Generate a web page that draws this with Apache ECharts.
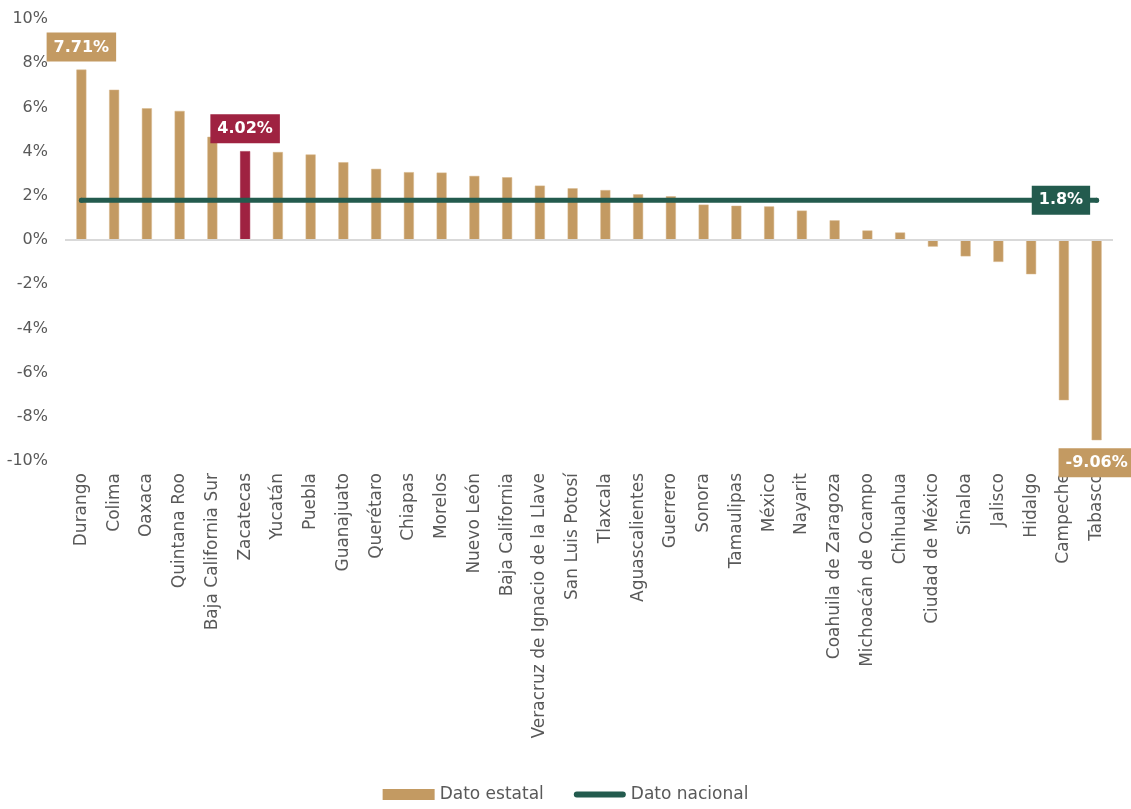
<!DOCTYPE html>
<html><head><meta charset="utf-8">
<script src="https://cdn.jsdelivr.net/npm/echarts@6/dist/echarts.min.js"></script>
<style>html,body{margin:0;padding:0;background:#fff}#c{width:1131px;height:809px}</style>
</head><body><div id="c"></div>
<script>
const categories = ["Durango","Colima","Oaxaca","Quintana Roo","Baja California Sur","Zacatecas","Yucatán","Puebla","Guanajuato","Querétaro","Chiapas","Morelos","Nuevo León","Baja California","Veracruz de Ignacio de la Llave","San Luis Potosí","Tlaxcala","Aguascalientes","Guerrero","Sonora","Tamaulipas","México","Nayarit","Coahuila de Zaragoza","Michoacán de Ocampo","Chihuahua","Ciudad de México","Sinaloa","Jalisco","Hidalgo","Campeche","Tabasco"];
const estatal = [7.71,6.80,5.96,5.84,4.67,4.02,3.98,3.87,3.52,3.22,3.07,3.05,2.90,2.84,2.46,2.34,2.26,2.07,1.98,1.60,1.55,1.52,1.33,0.89,0.43,0.34,-0.30,-0.74,-0.99,-1.55,-7.25,-9.06];
const nacionalValue = 1.8;
const nacional = categories.map(() => nacionalValue);
const highlighted = "Zacatecas";
const yTicks = [-10,-8,-6,-4,-2,0,2,4,6,8,10];

const TAN = "#C39A62", RED = "#9F2241", GREEN = "#235B4E";
const FONT = "DejaVu Sans";
const hiIdx = categories.indexOf(highlighted);
const maxIdx = estatal.indexOf(Math.max(...estatal));
const minIdx = estatal.indexOf(Math.min(...estatal));
const lastIdx = nacional.length - 1;

const boxLabel = (bg) => ({
  color: "#fff", fontWeight: "bold", fontSize: 16, fontFamily: FONT,
  backgroundColor: bg, padding: [7, 7, 6, 7]
});

const barData = estatal.map((v, i) => {
  const o = { value: v };
  if (i === hiIdx) o.itemStyle = { color: RED, borderColor: RED };
  if (i === hiIdx || i === maxIdx || i === minIdx) {
    o.label = Object.assign({
      show: true,
      position: v >= 0 ? "top" : "bottom",
      distance: 8,
      formatter: (p) => p.value.toFixed(2) + "%"
    }, boxLabel(i === hiIdx ? RED : TAN));
  }
  return o;
});

const lineData = nacional.map((v, i) => {
  const o = { value: v };
  if (i === lastIdx) {
    o.label = Object.assign({
      show: true, position: "left", distance: 4,
      formatter: (p) => p.value + "%"
    }, boxLabel(GREEN));
  }
  return o;
});

const chart = echarts.init(document.getElementById("c"), null, { renderer: "canvas" });
chart.setOption({
  animation: false,
  textStyle: { fontFamily: FONT },
  grid: { left: 65, right: 18, top: 19, bottom: 348, containLabel: false },
  legend: {
    bottom: 1, left: "center", itemGap: 30, itemWidth: 52, itemHeight: 11,
    textStyle: { color: "#595959", fontSize: 17, fontFamily: FONT },
    data: [
      { name: "Dato estatal", icon: "rect", itemStyle: { color: TAN, borderWidth: 0 } },
      { name: "Dato nacional",
        icon: "path://M0,0 M0,11 M3,2.5 L49,2.5 A3,3 0 0 1 49,8.5 L3,8.5 A3,3 0 0 1 3,2.5 Z M52,0 M52,11",
        itemStyle: { color: GREEN, borderWidth: 0 } }
    ]
  },
  xAxis: {
    type: "category", data: categories,
    axisLine: { show: false, onZero: false },
    axisTick: { show: false },
    axisLabel: { rotate: 90, interval: 0, color: "#595959", fontSize: 17, fontFamily: FONT, margin: 12 }
  },
  yAxis: {
    type: "value", min: -10, max: 10, interval: 2,
    splitLine: { show: false },
    axisLine: { show: false }, axisTick: { show: false },
    axisLabel: { color: "#595959", fontSize: 16, fontFamily: FONT, margin: 17,
      formatter: (v) => yTicks.includes(v) ? v + "%" : "" }
  },
  series: [
    {
      name: "Dato estatal", type: "bar", barWidth: 10, data: barData,
      itemStyle: { color: TAN, borderColor: "#D8B98C", borderWidth: 0.5 },
      markLine: {
        silent: true, symbol: "none", label: { show: false },
        lineStyle: { color: "#D9D9D9", width: 2, type: "solid" },
        data: [{ yAxis: 0 }]
      },
      z: 2
    },
    {
      name: "Dato nacional", type: "line", data: lineData,
      symbol: "circle", showSymbol: true,
      symbolSize: (v, p) => (p.dataIndex === lastIdx || p.dataIndex === 0) ? 5 : 1,
      lineStyle: { color: GREEN, width: 5, cap: "round" },
      itemStyle: { color: GREEN, borderWidth: 0 },
      z: 3
    }
  ]
});
</script></body></html>
